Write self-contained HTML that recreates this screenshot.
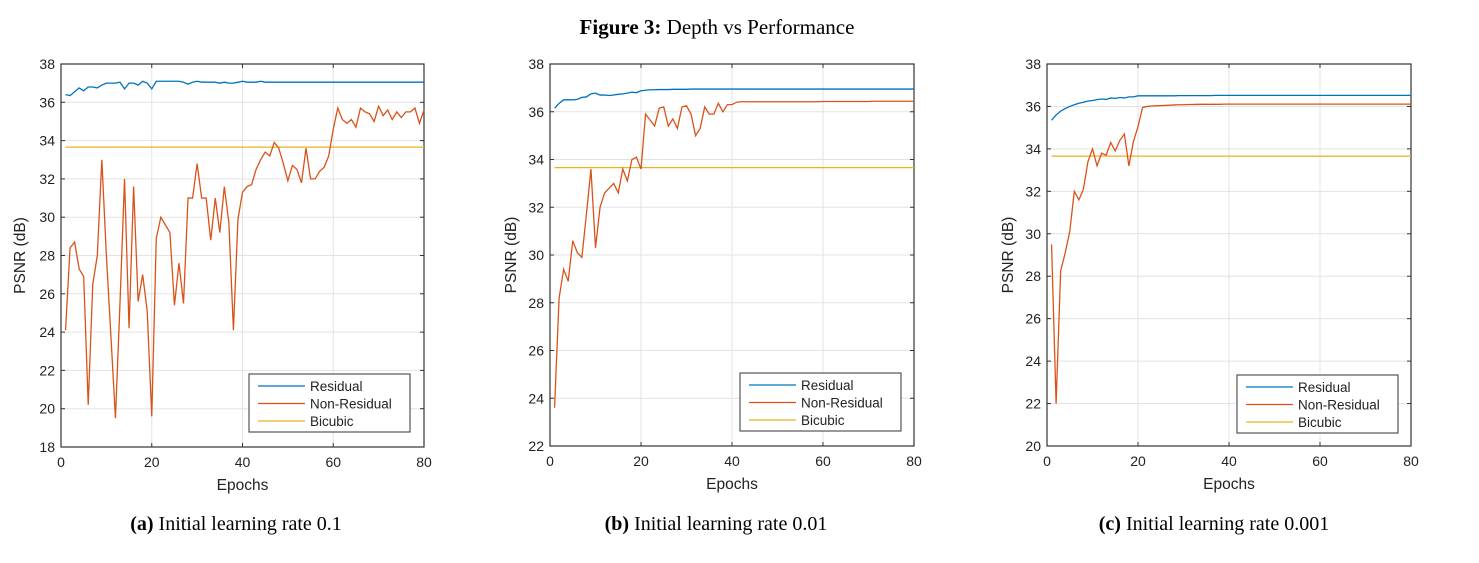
<!DOCTYPE html>
<html><head><meta charset="utf-8"><style>
body{margin:0;background:#fff;width:1479px;height:563px;overflow:hidden}
svg{position:absolute;left:0;top:0}
</style></head><body>
<svg id="fig" width="1479" height="563" font-family="Liberation Sans, sans-serif">
<text x="717" y="34" text-anchor="middle" font-family="Liberation Serif, serif" font-size="21"><tspan font-weight="bold">Figure 3:</tspan> Depth vs Performance</text>
</svg>
<script>
const epochs = Array.from({length:80},(_,i)=>i+1);
const resA=[36.4,36.35,36.55,36.75,36.6,36.8,36.8,36.75,36.9,37.0,37.0,37.0,37.05,36.7,37.0,37.0,36.9,37.1,37.0,36.7,37.1,37.1,37.1,37.1,37.1,37.1,37.05,36.95,37.05,37.1,37.05,37.05,37.05,37.05,37.0,37.05,37.0,37.0,37.05,37.1,37.05,37.05,37.05,37.1,37.05,37.05,37.05,37.05,37.05,37.05,37.05,37.05,37.05,37.05,37.05,37.05,37.05,37.05,37.05,37.05,37.05,37.05,37.05,37.05,37.05,37.05,37.05,37.05,37.05,37.05,37.05,37.05,37.05,37.05,37.05,37.05,37.05,37.05,37.05,37.05];
const nonA=[24.1,28.4,28.7,27.3,26.9,20.2,26.5,28.0,33.0,28.0,23.8,19.5,25.5,32.0,24.2,31.6,25.6,27.0,25.1,19.6,28.9,30.0,29.6,29.2,25.4,27.6,25.5,31.0,31.0,32.8,31.0,31.0,28.8,31.0,29.2,31.6,29.7,24.1,29.9,31.3,31.6,31.7,32.5,33.0,33.4,33.2,33.9,33.6,32.8,31.9,32.7,32.5,31.8,33.6,32.0,32.0,32.4,32.6,33.2,34.6,35.7,35.1,34.9,35.1,34.7,35.7,35.5,35.4,35.0,35.8,35.3,35.6,35.1,35.5,35.2,35.5,35.5,35.7,34.9,35.6];
const resB=[36.15,36.35,36.5,36.5,36.5,36.52,36.6,36.62,36.75,36.78,36.7,36.7,36.68,36.7,36.73,36.75,36.78,36.82,36.8,36.88,36.9,36.92,36.92,36.93,36.93,36.93,36.94,36.94,36.94,36.94,36.95,36.95,36.95,36.95,36.95,36.95,36.95,36.95,36.95,36.95,36.95,36.95,36.95,36.95,36.95,36.95,36.95,36.95,36.95,36.95,36.95,36.95,36.95,36.95,36.95,36.95,36.95,36.95,36.95,36.95,36.95,36.95,36.95,36.95,36.95,36.95,36.95,36.95,36.95,36.95,36.95,36.95,36.95,36.95,36.95,36.95,36.95,36.95,36.95,36.95];
const nonB=[23.6,28.2,29.4,28.9,30.6,30.1,29.9,31.7,33.6,30.3,32.0,32.6,32.8,33.0,32.6,33.6,33.1,34.0,34.1,33.6,35.9,35.65,35.4,36.15,36.2,35.4,35.7,35.3,36.2,36.25,35.9,35.0,35.3,36.2,35.9,35.9,36.35,36.0,36.3,36.3,36.4,36.42,36.42,36.42,36.42,36.42,36.42,36.42,36.42,36.42,36.42,36.42,36.42,36.42,36.42,36.42,36.42,36.42,36.42,36.43,36.43,36.43,36.43,36.43,36.43,36.43,36.43,36.43,36.43,36.43,36.44,36.44,36.44,36.44,36.44,36.44,36.44,36.44,36.44,36.44];
const resC=[35.35,35.6,35.78,35.9,36.0,36.08,36.15,36.2,36.25,36.28,36.32,36.35,36.33,36.4,36.38,36.42,36.4,36.45,36.45,36.5,36.5,36.5,36.5,36.5,36.5,36.5,36.5,36.5,36.51,36.51,36.51,36.51,36.51,36.51,36.51,36.51,36.52,36.52,36.52,36.52,36.52,36.52,36.52,36.52,36.52,36.52,36.52,36.52,36.52,36.52,36.52,36.52,36.52,36.52,36.52,36.52,36.52,36.52,36.52,36.52,36.52,36.52,36.52,36.52,36.52,36.52,36.52,36.52,36.52,36.52,36.52,36.52,36.52,36.52,36.52,36.52,36.52,36.52,36.52,36.52];
const nonC=[29.5,22.0,28.25,29.1,30.1,32.0,31.6,32.1,33.4,34.0,33.2,33.8,33.7,34.3,33.9,34.4,34.7,33.2,34.35,35.05,35.95,36.0,36.02,36.03,36.04,36.05,36.06,36.07,36.08,36.08,36.09,36.09,36.1,36.1,36.1,36.1,36.1,36.1,36.11,36.11,36.11,36.11,36.11,36.11,36.11,36.11,36.11,36.11,36.11,36.11,36.11,36.11,36.11,36.11,36.11,36.11,36.11,36.11,36.11,36.11,36.11,36.11,36.11,36.11,36.11,36.11,36.11,36.11,36.11,36.11,36.11,36.11,36.11,36.11,36.11,36.11,36.11,36.11,36.11,36.11];
const bicubic=[33.66,33.66,33.66];
const xTicks=[0,20,40,60,80];
const yTicksA=[18,20,22,24,26,28,30,32,34,36,38];
const yTicksB=[22,24,26,28,30,32,34,36,38];
const yTicksC=[20,22,24,26,28,30,32,34,36,38];
const captions=[["(a)","Initial learning rate 0.1"],["(b)","Initial learning rate 0.01"],["(c)","Initial learning rate 0.001"]];

const NS="http://www.w3.org/2000/svg";
const svg=document.getElementById('fig');
function mk(tag,attrs,parent){const e=document.createElementNS(NS,tag);for(const k in attrs)e.setAttribute(k,attrs[k]);(parent||svg).appendChild(e);return e;}

const panels=[
 {id:'a',L:61,R:424,T:64,B:447,ymin:18,ymax:38,yt:yTicksA,res:resA,non:nonA,bic:bicubic[0],ylx:20,leg:[249,374],cap:captions[0],cx:236},
 {id:'b',L:550,R:914,T:64,B:446,ymin:22,ymax:38,yt:yTicksB,res:resB,non:nonB,bic:bicubic[1],ylx:511,leg:[740,373],cap:captions[1],cx:716},
 {id:'c',L:1047,R:1411,T:64,B:446,ymin:20,ymax:38,yt:yTicksC,res:resC,non:nonC,bic:bicubic[2],ylx:1008,leg:[1237,375],cap:captions[2],cx:1214}
];
panels.forEach(p=>{
 const g=mk('g',{});
 
 
 const X=v=>p.L+(v-0)/80*(p.R-p.L);
 const Y=v=>p.B-(v-p.ymin)/(p.ymax-p.ymin)*(p.B-p.T);
 xTicks.forEach(t=>{const l=mk('line',{x1:X(t),x2:X(t),y1:p.T,y2:p.B,stroke:'#e3e3e3','stroke-width':1},g);
  
  const tx=mk('text',{x:X(t),y:p.B+20,'text-anchor':'middle','font-size':14,fill:'#222'},g);tx.textContent=t;
  
  mk('line',{x1:X(t),x2:X(t),y1:p.B,y2:p.B-4,stroke:'#333'},g);mk('line',{x1:X(t),x2:X(t),y1:p.T,y2:p.T+4,stroke:'#333'},g);});
 p.yt.forEach(t=>{const l=mk('line',{x1:p.L,x2:p.R,y1:Y(t),y2:Y(t),stroke:'#e3e3e3','stroke-width':1},g);
  
  const tx=mk('text',{x:p.L-6,y:Y(t)+5,'text-anchor':'end','font-size':14,fill:'#222'},g);tx.textContent=t;
  
  mk('line',{x1:p.L,x2:p.L+4,y1:Y(t),y2:Y(t),stroke:'#333'},g);mk('line',{x1:p.R,x2:p.R-4,y1:Y(t),y2:Y(t),stroke:'#333'},g);});
 const fr=mk('rect',{x:p.L,y:p.T,width:p.R-p.L,height:p.B-p.T,fill:'none',stroke:'#333','stroke-width':1.2},g);
 
 const bl=mk('line',{x1:X(1),x2:X(80),y1:Y(p.bic),y2:Y(p.bic),stroke:'#EDB120','stroke-width':1.3},g);
 
 const nl=mk('polyline',{points:p.non.map((v,i)=>X(epochs[i])+','+Y(v)).join(' '),fill:'none',stroke:'#D95319','stroke-width':1.3},g);
 
 const rl=mk('polyline',{points:p.res.map((v,i)=>X(epochs[i])+','+Y(v)).join(' '),fill:'none',stroke:'#0072BD','stroke-width':1.3},g);
 
 const [lx,ly]=p.leg;
 const lg=mk('g',{},g);
 
 mk('rect',{x:lx,y:ly,width:161,height:58,fill:'#fff',stroke:'#333','stroke-width':1},lg);
 [['Residual','#0072BD'],['Non-Residual','#D95319'],['Bicubic','#EDB120']].forEach((e,i)=>{
  const yy=ly+12+i*17.5;
  mk('line',{x1:lx+9,x2:lx+56,y1:yy,y2:yy,stroke:e[1],'stroke-width':1.3},lg);
  const t=mk('text',{x:lx+61,y:yy+5,'font-size':13.5,fill:'#222'},lg);t.textContent=e[0];
  
 });
 const xl=mk('text',{x:(p.L+p.R)/2,y:p.B+43,'text-anchor':'middle','font-size':15.5,fill:'#222'},g);xl.textContent='Epochs';
 
 const cy=(p.T+p.B)/2;
 const yl=mk('text',{x:p.ylx+5,y:cy,'text-anchor':'middle','font-size':15.5,fill:'#222',transform:`rotate(-90 ${p.ylx+5} ${cy})`},g);yl.textContent='PSNR (dB)';
 
 const cp=mk('text',{x:p.cx,y:530,'text-anchor':'middle','font-size':20,'font-family':'Liberation Serif, serif',fill:'#000'},g);
 
 const b=mk('tspan',{'font-weight':'bold'},cp);b.textContent=p.cap[0]+' ';
 const r=mk('tspan',{},cp);r.textContent=p.cap[1];
});
</script>
</body></html>
